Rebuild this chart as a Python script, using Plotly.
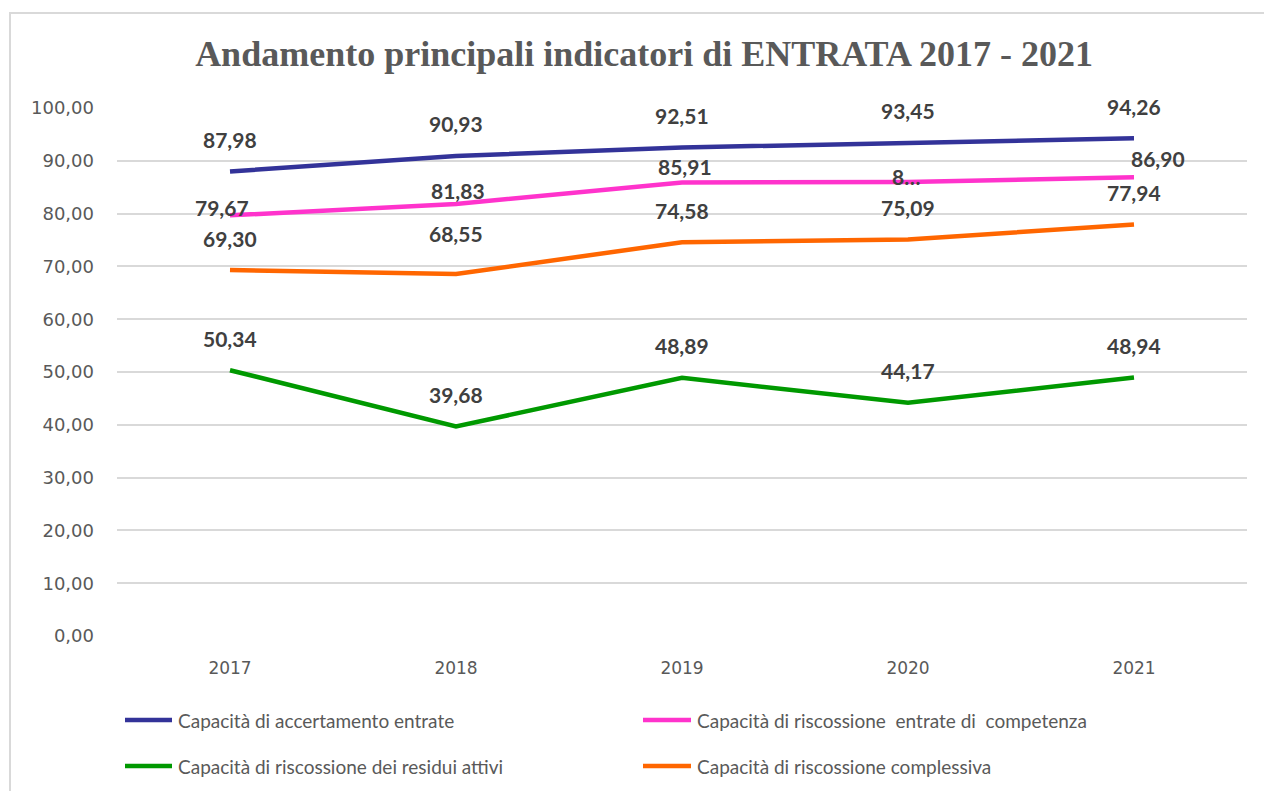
import plotly.graph_objects as go

# Anni e indicatori di entrata (valori percentuali)
anni = ["2017", "2018", "2019", "2020", "2021"]
accertamento = [87.98, 90.93, 92.51, 93.45, 94.26]
riscossione_competenza = [79.67, 81.83, 85.91, 85.97, 86.90]
riscossione_complessiva = [69.30, 68.55, 74.58, 75.09, 77.94]
riscossione_residui = [50.34, 39.68, 48.89, 44.17, 48.94]

nomi = [
    "Capacità di accertamento entrate",
    "Capacità di riscossione  entrate di  competenza",
    "Capacità di riscossione dei residui attivi",
    "Capacità di riscossione complessiva",
]
colori = ["#333399", "#FF33CC", "#009900", "#FF6600"]

# Etichette dati: scostamenti (px) usati per evitare sovrapposizioni
off_accertamento = [(0, 32)] * 5
off_competenza = [(-8, 8), (2, 13), (3, 16), (-2, 6), (24, 19)]
off_complessiva = [(0, 32), (0, 41), (0, 32), (0, 32), (0, 32)]
off_residui = [(0, 32)] * 5
troncate_competenza = [None, None, None, "8…", None]

W, H = 1264, 791
ML, MR, MT, MB = 117, 17, 108, 155
PW, PH = W - ML - MR, H - MT - MB


def px(x):
    return (x - ML) / PW


def py(y):
    return (H - MB - y) / PH


def fmt(v):
    return f"{v:.2f}".replace(".", ",")


fig = go.Figure()
serie = [
    (accertamento, colori[0], nomi[0], off_accertamento, [None] * 5),
    (riscossione_competenza, colori[1], nomi[1], off_competenza, troncate_competenza),
    (riscossione_complessiva, colori[3], nomi[3], off_complessiva, [None] * 5),
    (riscossione_residui, colori[2], nomi[2], off_residui, [None] * 5),
]

annotations = []
for valori, colore, nome, offs, testi in serie:
    fig.add_trace(go.Scatter(
        x=anni, y=valori, mode="lines", name=nome,
        line=dict(color=colore, width=4.5),
        showlegend=False, hoverinfo="x+y",
    ))
    # sull'asse a categorie l'etichetta si posiziona tramite l'indice della categoria
    for i, (v, (dx, dy), t) in enumerate(zip(valori, offs, testi)):
        annotations.append(dict(
            x=i, y=v, xref="x", yref="y",
            text="<b>" + (t if t else fmt(v)) + "</b>",
            showarrow=False, xshift=dx, yshift=dy,
            font=dict(family="Lato", size=21, color="#404040"),
        ))

# Legenda su due colonne
shapes = []
legenda = [
    (nomi[0], colori[0], 125, 172, 176, 720),
    (nomi[1], colori[1], 643, 691, 695, 720),
    (nomi[2], colori[2], 125, 172, 176, 766),
    (nomi[3], colori[3], 643, 691, 695, 766),
]
for nome, colore, x0, x1, xt, yy in legenda:
    shapes.append(dict(
        type="line", xref="paper", yref="paper",
        x0=px(x0), x1=px(x1), y0=py(yy), y1=py(yy),
        line=dict(color=colore, width=4.5),
    ))
    annotations.append(dict(
        x=px(xt), y=py(yy), xref="paper", yref="paper",
        text=nome, showarrow=False, xanchor="left", yanchor="middle",
        font=dict(family="Lato", size=19, color="#595959"),
    ))

# Cornice del grafico
shapes.append(dict(
    type="rect", xref="paper", yref="paper",
    x0=px(10), x1=px(1280), y0=py(810), y1=py(13),
    line=dict(color="#D9D9D9", width=2), layer="below",
))

fig.update_layout(
    width=W, height=H,
    margin=dict(l=ML, r=MR, t=MT, b=MB),
    paper_bgcolor="white", plot_bgcolor="white",
    title=dict(
        text="<b>Andamento principali indicatori di ENTRATA 2017 - 2021</b>",
        x=(644 - 0) / W, xanchor="center", y=1 - 53 / H, yanchor="middle",
        xref="container", yref="container",
        font=dict(family="Liberation Serif", size=36, color="#595959"),
    ),
    xaxis=dict(
        type="category", range=[-0.5, 4.5],
        showgrid=False, zeroline=False, showline=False,
        tickfont=dict(family="DejaVu Sans", size=17, color="#595959"),
        ticks="", ticklabelstandoff=20,
    ),
    yaxis=dict(
        range=[0, 100], dtick=10, tickformat=".2f",
        showgrid=True, gridcolor="#D9D9D9", gridwidth=1.5,
        zeroline=False, showline=False,
        tickfont=dict(family="DejaVu Sans", size=18, color="#595959"),
        ticks="", ticklabelstandoff=22,
    ),
    separators=",.",
    annotations=annotations,
    shapes=shapes,
)

fig.write_html("out.html")
